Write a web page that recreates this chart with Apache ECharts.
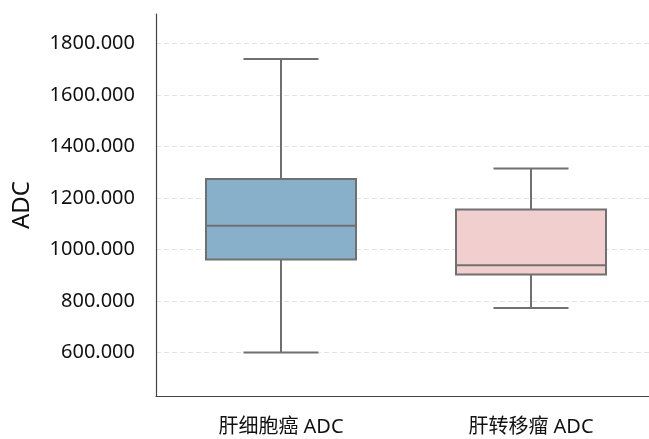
<!DOCTYPE html>
<html>
<head>
<meta charset="utf-8">
<script src="https://cdn.jsdelivr.net/npm/echarts@6/dist/echarts.min.js"></script>
<style>html,body{margin:0;padding:0;background:#fff}#c{width:649px;height:439px}</style>
</head>
<body>
<div id="c"></div>
<script>
const categories = ['肝细胞癌 ADC', '肝转移瘤 ADC'];
const lowerWhisker = [600, 773];
const q1 = [961, 903];
const median = [1092, 939];
const q3 = [1274, 1156];
const upperWhisker = [1740, 1315];
const yTicks = [600, 800, 1000, 1200, 1400, 1600, 1800];

const fills = ['#88b0cb', '#f2cfcf'];
const edge = '#707070';
const font = 'Noto Sans, Noto Sans CJK SC, sans-serif';

const data = categories.map((c, i) => [i, lowerWhisker[i], q1[i], median[i], q3[i], upperWhisker[i]]);

const chart = echarts.init(document.getElementById('c'));
chart.setOption({
  animation: false,
  grid: { left: 156, top: 14, width: 500, height: 382, outerBoundsMode: 'none', containLabel: false },
  xAxis: {
    type: 'category',
    data: categories,
    axisLine: { lineStyle: { color: '#444', width: 1.2 } },
    axisTick: { show: false },
    axisLabel: { color: '#111', fontSize: 20, fontFamily: font, margin: 21 },
    splitLine: { show: false }
  },
  yAxis: {
    type: 'value',
    min: 431,
    max: 1915,
    name: 'ADC',
    nameLocation: 'middle',
    nameGap: 122,
    nameTextStyle: { color: '#111', fontSize: 24, fontFamily: font },
    axisLine: { show: true, lineStyle: { color: '#444', width: 1.2 } },
    axisTick: { show: false, customValues: yTicks },
    axisLabel: {
      customValues: yTicks,
      color: '#111', fontSize: 20, fontFamily: font, margin: 21,
      formatter: v => v.toFixed(3)
    },
    splitLine: { show: true, lineStyle: { color: '#e3e3e3', width: 1, type: [5, 3] } }
  },
  series: [{
    type: 'custom',
    data: data,
    renderItem: function (params, api) {
      const x = api.value(0);
      const pLow = api.coord([x, api.value(1)]);
      const pQ1 = api.coord([x, api.value(2)]);
      const pMed = api.coord([x, api.value(3)]);
      const pQ3 = api.coord([x, api.value(4)]);
      const pHigh = api.coord([x, api.value(5)]);
      const band = api.size([1, 0])[0];
      const bw = band * 0.6;
      const cw = bw * 0.5;
      const cx = pMed[0];
      const ls = { stroke: edge, lineWidth: 2, fill: null };
      return {
        type: 'group',
        children: [
          { type: 'line', shape: { x1: cx, y1: pLow[1], x2: cx, y2: pQ1[1] }, style: ls },
          { type: 'line', shape: { x1: cx, y1: pQ3[1], x2: cx, y2: pHigh[1] }, style: ls },
          { type: 'line', shape: { x1: cx - cw / 2, y1: pLow[1], x2: cx + cw / 2, y2: pLow[1] }, style: ls },
          { type: 'line', shape: { x1: cx - cw / 2, y1: pHigh[1], x2: cx + cw / 2, y2: pHigh[1] }, style: ls },
          { type: 'rect', shape: { x: cx - bw / 2, y: pQ3[1], width: bw, height: pQ1[1] - pQ3[1] },
            style: { fill: fills[params.dataIndex], stroke: edge, lineWidth: 2 } },
          { type: 'line', shape: { x1: cx - bw / 2, y1: pMed[1], x2: cx + bw / 2, y2: pMed[1] }, style: ls }
        ]
      };
    }
  }]
});
</script>
</body>
</html>
